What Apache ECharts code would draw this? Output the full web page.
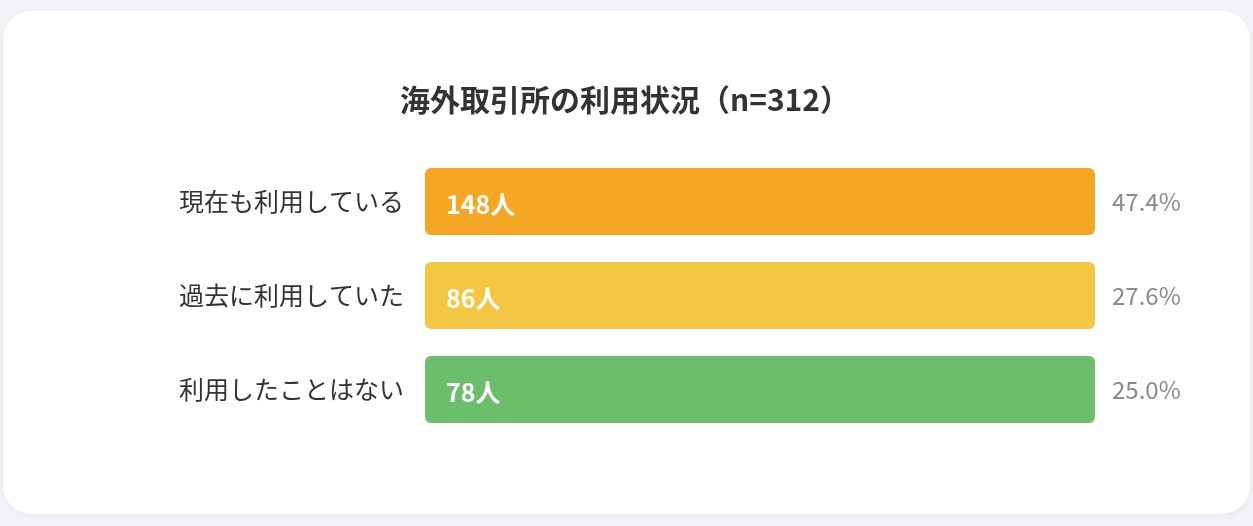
<!DOCTYPE html>
<html>
<head>
<meta charset="utf-8">
<script src="https://cdn.jsdelivr.net/npm/echarts@6/dist/echarts.min.js"></script>
<style>
    html, body { margin: 0; padding: 0; background: #f2f3f6; }
    .card {
        position: absolute; left: 3px; top: 11px; width: 1247px; height: 503px;
        background: #fff; border-radius: 28px;
        box-shadow: 0 2px 6px rgba(0, 0, 0, 0.05);
    }
    #main { position: absolute; left: 0; top: 0; width: 1253px; height: 526px; }
</style>
</head>
<body>
<div class="card"></div>
<div id="main"></div>
<script>
    // 海外取引所の利用状況
    var categories = ['現在も利用している', '過去に利用していた', '利用したことはない'];
    var counts = [148, 86, 78];
    var percents = ['47.4%', '27.6%', '25.0%'];
    // 各バーはトラック幅いっぱいに塗られている
    var barFill = [100, 100, 100];
    var colors = ['#f5a623', '#f3c742', '#6cbf6a'];

    var font = '"Noto Sans CJK JP", "Noto Sans", sans-serif';

    var option = {
        title: {
            text: '海外取引所の利用状況（n=312）',
            left: 620,
            top: 80,
            textAlign: 'center',
            textStyle: { fontFamily: font, fontSize: 30, fontWeight: 'bold', color: '#333' }
        },
        grid: { left: 425, right: 158, top: 154.5, bottom: 89.5 },
        xAxis: {
            type: 'value', min: 0, max: 100, show: false
        },
        yAxis: [
            {
                type: 'category',
                data: categories,
                inverse: true,
                axisLine: { show: false },
                axisTick: { show: false },
                axisLabel: { margin: 21, fontFamily: font, fontSize: 25, color: '#333', padding: [10, 0, 0, 0] }
            },
            {
                type: 'category',
                data: percents,
                inverse: true,
                position: 'right',
                axisLine: { show: false },
                axisTick: { show: false },
                axisLabel: { margin: 17, fontFamily: font, fontSize: 24, color: '#8a8a8a', padding: [12, 0, 0, 0] }
            }
        ],
        series: [{
            type: 'bar',
            barWidth: 67,
            data: barFill.map(function (v, i) {
                return { value: v, itemStyle: { color: colors[i] } };
            }),
            itemStyle: { borderRadius: 6 },
            label: {
                show: true,
                position: 'insideLeft',
                distance: 21,
                offset: [0, 3],
                formatter: function (p) { return counts[p.dataIndex] + '人'; },
                fontFamily: font, fontSize: 25, fontWeight: 'bold', color: '#fff'
            },
            silent: true
        }]
    };

    var myChart = echarts.init(document.getElementById('main'));
    myChart.setOption(option);
</script>
</body>
</html>
